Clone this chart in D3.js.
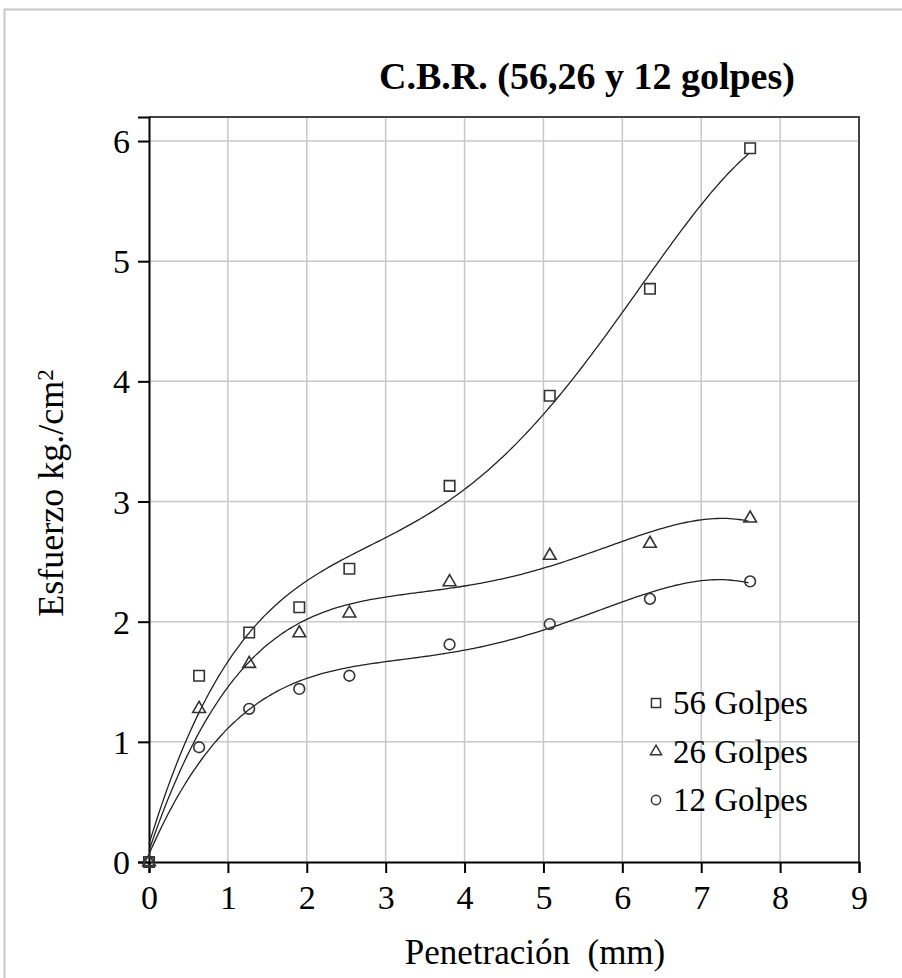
<!DOCTYPE html>
<html>
<head>
<meta charset="utf-8">
<script src="https://cdnjs.cloudflare.com/ajax/libs/d3/7.8.5/d3.min.js"></script>
<style>
  body { margin: 0; background: #fff; }
  svg { display: block; font-family: "Liberation Serif", "Times New Roman", serif; }
</style>
</head>
<body>
<div id="chart"></div>
<script>
// datos del ensayo
const penetracion = [0, 0.635, 1.27, 1.905, 2.54, 3.81, 5.08, 6.35, 7.62]
const golpes56 = [0, 1.55, 1.91, 2.12, 2.44, 3.13, 3.88, 4.77, 5.94]
const golpes26 = [0, 1.275, 1.65, 1.905, 2.07, 2.33, 2.55, 2.65, 2.86]
const golpes12 = [0, 0.955, 1.275, 1.44, 1.55, 1.81, 1.98, 2.19, 2.335]
const serieNames = ['56 Golpes', '26 Golpes', '12 Golpes']
const xTicks = [0, 1, 2, 3, 4, 5, 6, 7, 8, 9]
const yTicks = [0, 1, 2, 3, 4, 5, 6]

class CbrChart {
  defaultOption() {
    return {
      width: 902,
      height: 978,
      padding: { top: 117, right: 43, bottom: 116, left: 149 },
      order: 4
    }
  }

  constructor(selector, option) {
    this.config = Object.assign(this.defaultOption(), option)
    this.svg = d3.select(selector).append('svg')
      .attr('width', this.config.width)
      .attr('height', this.config.height)
  }

  // ajuste polinomial por minimos cuadrados (linea de tendencia)
  fitPoly(xs, ys, order) {
    const n = order + 1
    const A = d3.range(n).map(() => new Array(n + 1).fill(0))
    xs.forEach((x, k) => {
      for (let i = 0; i < n; i++) {
        for (let j = 0; j < n; j++) A[i][j] += Math.pow(x, i + j)
        A[i][n] += ys[k] * Math.pow(x, i)
      }
    })
    for (let c = 0; c < n; c++) {
      let p = c
      for (let r = c + 1; r < n; r++) if (Math.abs(A[r][c]) > Math.abs(A[p][c])) p = r
      const t = A[c]; A[c] = A[p]; A[p] = t
      for (let r = 0; r < n; r++) {
        if (r === c) continue
        const f = A[r][c] / A[c][c]
        for (let j = c; j <= n; j++) A[r][j] -= f * A[c][j]
      }
    }
    const coef = A.map((row, i) => row[n] / row[i])
    return x => coef.reduce((s, a, i) => s + a * Math.pow(x, i), 0)
  }

  draw() {
    const { width, height, padding, order } = this.config
    const svg = this.svg

    const x = d3.scaleLinear().domain([0, 9]).range([padding.left, width - padding.right])
    const y = d3.scaleLinear().domain([0, 6.2]).range([height - padding.bottom, padding.top])

    // marco exterior
    svg.append('rect')
      .attr('x', 4.5).attr('y', 9.5)
      .attr('width', 1000).attr('height', 1000)
      .attr('fill', 'none').attr('stroke', '#c8c8c8').attr('stroke-width', 2)

    // rejilla
    svg.append('g').selectAll('line').data(xTicks.slice(1, -1)).enter().append('line')
      .attr('x1', d => x(d)).attr('x2', d => x(d))
      .attr('y1', y(0)).attr('y2', y(6.2))
      .attr('stroke', '#c8c8c8').attr('stroke-width', 1.5)
    svg.append('g').selectAll('line').data(yTicks.slice(1)).enter().append('line')
      .attr('x1', x(0)).attr('x2', x(9))
      .attr('y1', d => y(d)).attr('y2', d => y(d))
      .attr('stroke', '#c8c8c8').attr('stroke-width', 1.5)

    // borde superior y derecho
    svg.append('path')
      .attr('d', `M${x(0)},${y(6.2)}H${x(9)}V${y(0)}`)
      .attr('fill', 'none').attr('stroke', '#444').attr('stroke-width', 2)

    // ejes
    const xAxis = d3.axisBottom(x).tickValues(xTicks).tickFormat(d3.format('d')).tickSize(11).tickPadding(12)
    const gx = svg.append('g').attr('transform', `translate(0,${y(0)})`).call(xAxis)
    const yAxis = d3.axisLeft(y).tickValues(yTicks).tickFormat(d3.format('d')).tickSize(11).tickPadding(8)
    const gy = svg.append('g').attr('transform', `translate(${x(0)},0)`).call(yAxis)
    ;[gx, gy].forEach(g => {
      g.select('.domain').attr('stroke', '#000').attr('stroke-width', 2)
      g.selectAll('.tick line').attr('stroke', '#000').attr('stroke-width', 2)
      g.selectAll('.tick text').attr('fill', '#000')
        .style('font-family', '"Liberation Serif", serif').style('font-size', '34px')
    })
    gx.selectAll('.tick text').attr('dy', '0.71em')
    gy.selectAll('.tick text').attr('dy', '0.34em')

    // lineas de tendencia
    const series = [golpes56, golpes26, golpes12]
    const xs = d3.range(0, 7.62 + 1e-9, 0.04)
    const line = d3.line().x(d => x(d[0])).y(d => y(d[1])).curve(d3.curveMonotoneX)
    series.forEach(vals => {
      const f = this.fitPoly(penetracion, vals, order)
      svg.append('path')
        .datum(xs.map(v => [v, f(v)]))
        .attr('d', line)
        .attr('fill', 'none').attr('stroke', '#222').attr('stroke-width', 1.3)
    })

    // marcadores
    const symbols = [d3.symbolSquare, d3.symbolTriangle, d3.symbolCircle]
    const sizes = [110, 70, 90]
    series.forEach((vals, i) => {
      svg.append('g').selectAll('path').data(vals).enter().append('path')
        .attr('transform', (d, k) => `translate(${x(penetracion[k])},${y(d)})`)
        .attr('d', d3.symbol().type(symbols[i]).size(sizes[i]))
        .attr('fill', 'none').attr('stroke', '#333').attr('stroke-width', 1.6)
    })

    // leyenda
    const legend = svg.append('g').attr('transform', 'translate(656,703)')
    serieNames.forEach((name, i) => {
      const row = legend.append('g').attr('transform', `translate(0,${i * 48.5})`)
      row.append('path')
        .attr('d', d3.symbol().type(symbols[i]).size(sizes[i] * 0.75))
        .attr('fill', 'none').attr('stroke', '#333').attr('stroke-width', 1.5)
      row.append('text').attr('x', 17).attr('y', 11)
        .style('font-size', '33px').attr('fill', '#000').text(name)
    })

    // titulos
    svg.append('text').attr('x', 587).attr('y', 89).attr('text-anchor', 'middle')
      .style('font-size', '38px').style('font-weight', 'bold').text('C.B.R. (56,26 y 12 golpes)')
    svg.append('text').attr('x', 535).attr('y', 964).attr('text-anchor', 'middle')
      .style('font-size', '35px').style('white-space', 'pre').text('Penetración  (mm)')
    const yt = svg.append('text').attr('transform', 'translate(63,493) rotate(-90)')
      .attr('text-anchor', 'middle').style('font-size', '36px')
    yt.append('tspan').text('Esfuerzo kg./cm')
    yt.append('tspan').attr('dy', '-0.45em').style('font-size', '23px').text('2')
  }
}

const chart = new CbrChart('#chart')
chart.draw()
</script>
</body>
</html>
